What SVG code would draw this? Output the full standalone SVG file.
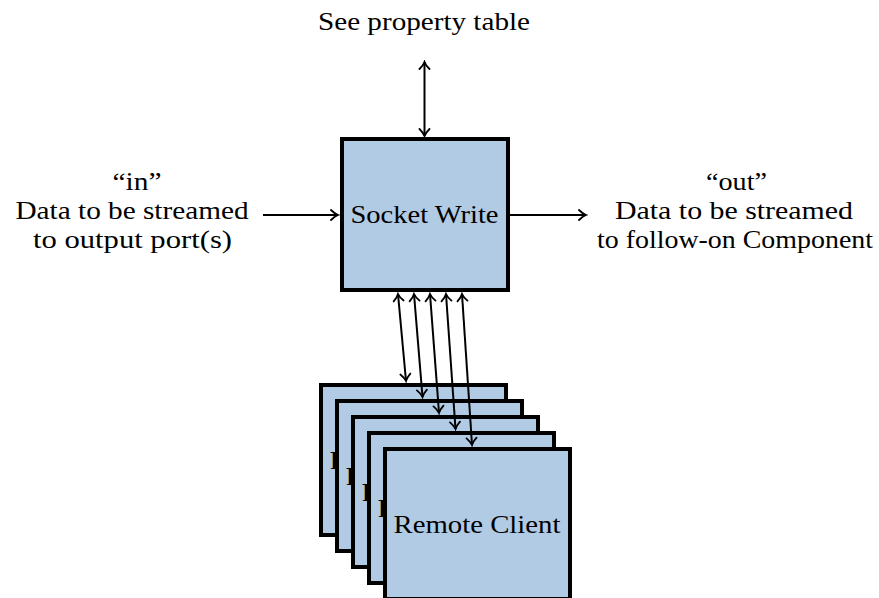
<svg xmlns="http://www.w3.org/2000/svg" width="879" height="598" viewBox="0 0 879 598">
<style>
  .box { fill: #b1cbe5; stroke: #000; stroke-width: 4; }
  .lbl { font-family: 'Liberation Serif', 'Times New Roman', serif; font-size: 26px; fill: #000; text-anchor: middle; }
  .conn { stroke: #000; stroke-width: 2; fill: none; marker-end: url(#arr); marker-start: url(#arr); }
  .one { marker-start: none; }
</style>
<defs>
  <marker id="arr" viewBox="-9 -7 11 14" markerWidth="11" markerHeight="14" markerUnits="userSpaceOnUse" refX="0" refY="0" orient="auto-start-reverse">
    <path d="M-7,-5 Q-3,-1 0,0 Q-3,1 -7,5" fill="none" stroke="#000" stroke-width="1.8" stroke-linecap="round"/>
  </marker>
  <clipPath id="c1"><rect x="300" y="380" width="35" height="220"/></clipPath>
  <clipPath id="c2"><rect x="300" y="380" width="51" height="220"/></clipPath>
  <clipPath id="c3"><rect x="300" y="380" width="67" height="220"/></clipPath>
  <clipPath id="c4"><rect x="300" y="380" width="83" height="220"/></clipPath>
</defs>

<g id="labels">
  <text class="lbl" x="424" y="30" textLength="212" lengthAdjust="spacingAndGlyphs">See property table</text>
  <text class="lbl" x="137" y="190" textLength="49" lengthAdjust="spacingAndGlyphs">“in”</text>
  <text class="lbl" x="132" y="219" textLength="233" lengthAdjust="spacingAndGlyphs">Data to be streamed</text>
  <text class="lbl" x="132.5" y="248" textLength="199" lengthAdjust="spacingAndGlyphs">to output port(s)</text>
  <text class="lbl" x="736.5" y="190" textLength="61" lengthAdjust="spacingAndGlyphs">“out”</text>
  <text class="lbl" x="734" y="219" textLength="238" lengthAdjust="spacingAndGlyphs">Data to be streamed</text>
  <text class="lbl" x="735" y="248" textLength="276" lengthAdjust="spacingAndGlyphs">to follow-on Component</text>
</g>

<g id="socket-write">
  <rect class="box" x="342" y="139" width="166" height="151"/>
  <text class="lbl" x="424.5" y="223" textLength="148" lengthAdjust="spacingAndGlyphs">Socket Write</text>
</g>

<g id="remote-client-1">
  <rect class="box" x="321" y="385" width="185" height="150"/>
  <text class="lbl" x="413" y="469" textLength="167" lengthAdjust="spacingAndGlyphs" clip-path="url(#c1)">Remote Client</text>
</g>
<g id="remote-client-2">
  <rect class="box" x="337" y="401" width="185" height="150"/>
  <text class="lbl" x="429" y="485" textLength="167" lengthAdjust="spacingAndGlyphs" clip-path="url(#c2)">Remote Client</text>
</g>
<g id="remote-client-3">
  <rect class="box" x="353" y="417" width="185" height="150"/>
  <text class="lbl" x="445" y="501" textLength="167" lengthAdjust="spacingAndGlyphs" clip-path="url(#c3)">Remote Client</text>
</g>
<g id="remote-client-4">
  <rect class="box" x="369" y="433" width="185" height="150"/>
  <text class="lbl" x="461" y="517" textLength="167" lengthAdjust="spacingAndGlyphs" clip-path="url(#c4)">Remote Client</text>
</g>
<g id="remote-client-5">
  <rect class="box" x="385" y="449" width="185" height="150"/>
  <text class="lbl" x="477" y="533" textLength="167" lengthAdjust="spacingAndGlyphs">Remote Client</text>
</g>

<g id="connectors">
  <line class="conn" x1="424.5" y1="62" x2="424.5" y2="136"/>
  <line class="conn one" x1="263" y1="215" x2="338" y2="215"/>
  <line class="conn one" x1="510" y1="215" x2="586" y2="215"/>
  <line class="conn" x1="398" y1="294" x2="406" y2="381"/>
  <line class="conn" x1="414" y1="294" x2="422.5" y2="397"/>
  <line class="conn" x1="430" y1="294" x2="439" y2="413"/>
  <line class="conn" x1="446" y1="294" x2="455.5" y2="429"/>
  <line class="conn" x1="462" y1="294" x2="472" y2="445"/>
</g>
</svg>
